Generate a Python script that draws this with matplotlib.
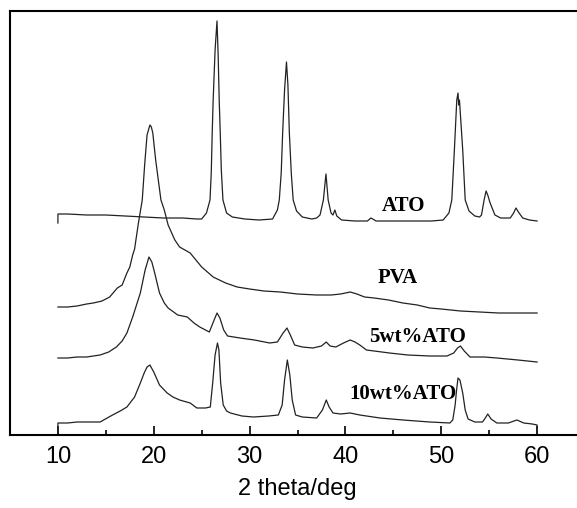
import matplotlib
matplotlib.use("Agg")
import matplotlib.pyplot as plt
from matplotlib.ticker import FixedLocator

# XRD patterns, intensity in arbitrary units (curves stacked by hand-read offsets)
ato_x = [10.0, 10.0, 11, 13, 15, 17, 19, 21, 23, 24.5, 25.0, 25.5, 25.87, 26.0, 26.1, 26.2, 26.4, 26.6, 26.72, 26.83,
         26.94, 27.05, 27.22, 27.6, 28.2, 29.5, 31, 32.4, 32.9, 33.1, 33.3, 33.45, 33.65, 33.85, 34.0, 34.15, 34.35, 34.55, 34.9, 35.5,
         36.5, 37.0, 37.35, 37.7, 37.97, 38.2, 38.5, 38.7, 38.9, 39.1, 39.6, 41, 42.3, 42.65, 42.85, 43.2, 45, 47, 49, 50.2,
         50.8, 51.1, 51.37, 51.62, 51.75, 51.82, 51.9, 52.24, 52.5, 52.9, 53.5, 54.0, 54.2, 54.47, 54.68, 54.85, 55.1, 55.6, 56.2, 57.2,
         57.55, 57.8, 58.05, 58.5, 59.2, 60.0]
ato_y = [212, 221, 221, 220, 220, 219, 218, 217, 217, 216, 216, 222, 235, 262, 302, 335, 385, 414, 380, 335,
         302, 265, 235, 222, 218, 216, 215, 216, 225, 235, 262, 302, 345, 373, 350, 302, 262, 235, 224, 218,
         216, 217, 220, 235, 261, 235, 222, 220, 225, 219, 215, 214, 214, 217, 216, 214, 214, 214, 214, 215,
         222, 235, 285, 335, 342, 330, 335, 285, 235, 224, 219, 218, 220, 235, 244, 240, 232, 220, 217, 217,
         222, 227, 223, 217, 215, 214]

pva_x = [10.0, 11, 12, 13, 13.7, 14.6, 15.4, 16.2, 16.7, 17.2, 17.5, 17.8, 18.0, 18.4, 18.8, 19.05, 19.3, 19.6, 19.75, 19.9,
         20.2, 20.75, 21.1, 21.5, 22.2, 22.7, 23.8, 25.0, 26.2, 27.5, 28.7, 30, 31.5, 33.2, 35, 37, 38.5, 39.5, 40.5, 41.2,
         42, 43, 44.5, 46, 47.5, 48.8, 50, 52, 54, 56, 58, 60]
pva_y = [128, 128, 129, 131, 132, 134, 138, 147, 150, 162, 168, 180, 186, 212, 235, 270, 300, 310, 308, 302,
         275, 235, 225, 210, 195, 188, 182, 168, 158, 152, 148, 146, 144, 143, 141, 140, 140, 141, 143, 141,
         138, 137, 135, 132, 130, 127, 126, 124, 123, 122, 122, 122]

w5_x = [10.0, 11, 12, 13, 14.4, 15.3, 16.1, 16.7, 17.2, 17.8, 18.2, 18.6, 19.1, 19.5, 19.8, 20.1, 20.6, 21.1, 21.5, 22.5,
        23.5, 24.2, 24.8, 25.8, 26.3, 26.6, 26.9, 27.3, 27.7, 29, 30.5, 32.1, 32.9, 33.5, 33.9, 34.3, 34.7, 35.5, 36.6, 37.5,
        38.0, 38.4, 39.0, 39.8, 40.5, 41.0, 41.5, 42.2, 44.6, 46.5, 48.8, 50.6, 51.3, 51.7, 52.0, 52.4, 53.0, 54.5, 55.8, 58,
        60]
w5_y = [77, 77, 78, 78, 80, 83, 88, 94, 102, 118, 130, 142, 165, 178, 173, 162, 142, 132, 127, 120,
        118, 112, 108, 103, 115, 122, 117, 105, 99, 97, 95, 92, 93, 102, 107, 99, 90, 88, 87, 89,
        93, 89, 88, 92, 95, 93, 90, 85, 82, 80, 79, 79, 82, 87, 89, 84, 78, 78, 77, 75,
        73]

w10_x = [10.0, 10.0, 11, 12, 13, 14.4, 15.7, 16.5, 17.2, 18.0, 18.6, 19.0, 19.3, 19.6, 20.0, 20.6, 21.4, 22.0, 22.7, 23.8,
         24.5, 25.4, 25.9, 26.15, 26.4, 26.65, 26.8, 26.98, 27.25, 27.6, 28.0, 29.2, 30.4, 32, 33.0, 33.4, 33.65, 33.94, 34.2, 34.45,
         34.8, 35.5, 37.0, 37.6, 38.0, 38.3, 38.7, 39.5, 40.5, 41.5, 43.6, 46, 48.8, 50.9, 51.2, 51.45, 51.6, 51.75, 51.95, 52.24,
         52.5, 52.8, 53.5, 54.3, 54.6, 54.85, 55.2, 55.8, 57.0, 57.9, 58.6, 59.5, 60.0, 60.0]
w10_y = [0, 12, 12, 13, 13, 13, 20, 24, 28, 38, 52, 62, 68, 70, 63, 50, 42, 38, 35, 32,
         27, 27, 28, 52, 80, 92, 85, 52, 30, 24, 22, 19, 18, 19, 20, 30, 55, 75, 60, 35,
         20, 18, 17, 25, 35, 28, 22, 21, 22, 20, 17, 15, 13, 12, 15, 30, 45, 57, 55, 42,
         25, 16, 13, 13, 17, 21, 16, 12, 12, 15, 12, 11, 10, 0]

curve_names = ["ATO", "PVA", "5wt%ATO", "10wt%ATO"]
label_pos = [(46.1, 229), (45.5, 157), (47.5, 98), (46.0, 41)]

fig = plt.figure(figsize=(5.77, 5.08), dpi=100)
ax = fig.add_axes([10 / 577, 73 / 508, 575 / 577, 424 / 508])

for xs, ys in [(ato_x, ato_y), (pva_x, pva_y), (w5_x, w5_y), (w10_x, w10_y)]:
    ax.plot(xs, ys, color="#222222", linewidth=0.9)

for name, (lx, ly) in zip(curve_names, label_pos):
    ax.text(lx, ly, name, ha="center", va="center", fontsize=15,
            fontweight="bold", family="Liberation Serif")

ax.set_xlim(5, 65)
ax.set_ylim(0, 424)
ax.set_xticks(range(10, 61, 10))
# minor ticks only between the labelled ones
ax.xaxis.set_minor_locator(FixedLocator([15, 25, 35, 45, 55]))
ax.set_yticks([])
ax.tick_params(axis="x", which="major", direction="in", length=6.5, width=1.2,
               labelsize=17, pad=8, top=False)
ax.tick_params(axis="x", which="minor", direction="in", length=3.6, width=1.2, top=False)
for lbl in ax.get_xticklabels():
    lbl.set_family("Liberation Sans")
ax.set_xlabel("2 theta/deg", fontsize=17, family="Liberation Sans", labelpad=7)
for s in ax.spines.values():
    s.set_linewidth(1.5)

fig.savefig("out.png", dpi=100)
